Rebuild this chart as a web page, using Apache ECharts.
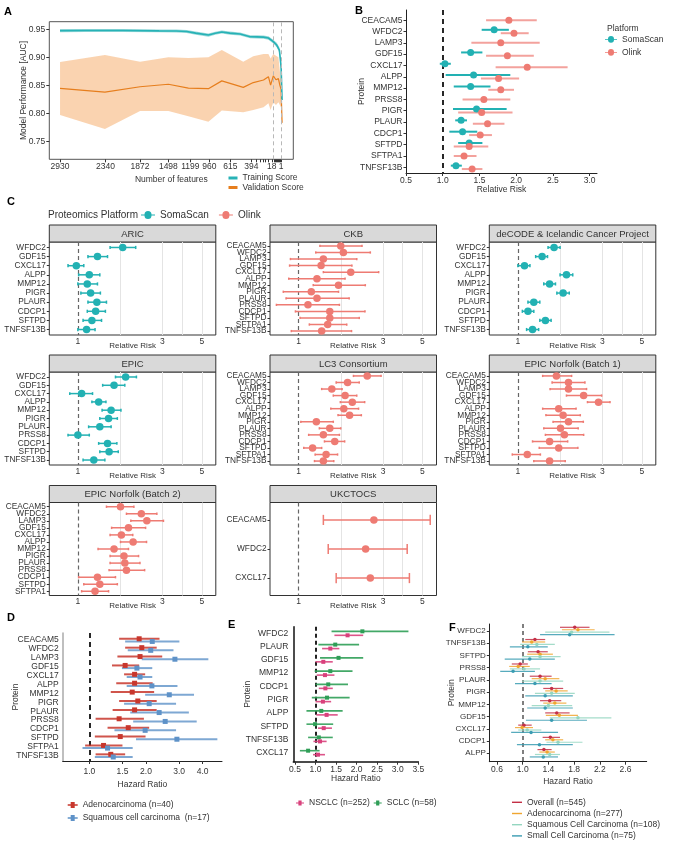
<!DOCTYPE html>
<html>
<head>
<meta charset="utf-8">
<title>Protein biomarkers and lung cancer risk</title>
<script src="https://cdn.jsdelivr.net/npm/echarts@6.0.0/dist/echarts.min.js"></script>
<style>
  html, body { margin: 0; padding: 0; background: #fff; }
  #fig { width: 677px; height: 849px; }
</style>
</head>
<body>
<div id="fig"></div>
<script>
// ---------- A: model performance vs number of features ----------
var aTickPos = [4.4, 23, 37.2, 48.8, 57.8, 65.6, 74.2, 82.8, 91.2, 95.0];
var aTickLab = ['2930', '2340', '1872', '1498', '1199', '960', '615', '394', '18', '1'];
var aMinorTicks = [84.8, 86.3, 87.6, 88.7, 89.7, 92.0, 92.5, 93.0, 93.4, 93.8, 94.2, 94.6];
var aCutoffs = [91.8, 95.2];
var aAucTicks = [0.75, 0.80, 0.85, 0.90, 0.95];

var trainX   = [4.4, 15, 30, 45, 52, 56.3, 60, 65.2, 68, 70.7, 74, 78.2, 82.3, 85, 87.8, 89.8, 91.8, 93.2, 94.3, 95.0, 95.4];
var trainAUC = [0.9476, 0.948, 0.948, 0.9472, 0.947, 0.9462, 0.9432, 0.9398, 0.943, 0.9452, 0.9432, 0.9416, 0.9368, 0.9365, 0.936, 0.9345, 0.928, 0.922, 0.913, 0.883, 0.824];
var trainHi  = [0.9503, 0.9506, 0.9506, 0.9498, 0.9496, 0.9489, 0.946, 0.9427, 0.9457, 0.9478, 0.9459, 0.9444, 0.9396, 0.9393, 0.939, 0.9376, 0.9315, 0.926, 0.918, 0.889, 0.829];
var trainLo  = [0.9449, 0.9454, 0.9454, 0.9446, 0.9444, 0.9435, 0.9404, 0.9369, 0.9403, 0.9426, 0.9405, 0.9388, 0.934, 0.9337, 0.933, 0.9314, 0.9245, 0.918, 0.908, 0.877, 0.819];

var validX   = [4.4, 22.8, 37.2, 48.8, 57.0, 65.2, 70.7, 79.5, 83.6, 87.8, 89.8, 90.7, 91.8, 92.9, 93.9, 94.5, 95.0, 95.4];
var validAUC = [0.8446, 0.838, 0.8475, 0.852, 0.845, 0.844, 0.858, 0.8464, 0.855, 0.8595, 0.8654, 0.8505, 0.867, 0.860, 0.862, 0.850, 0.843, 0.783];
var validHi  = [0.8916, 0.904, 0.892, 0.900, 0.899, 0.900, 0.913, 0.892, 0.902, 0.906, 0.906, 0.898, 0.906, 0.903, 0.900, 0.875, 0.860, 0.790];
var validLo  = [0.797, 0.772, 0.804, 0.804, 0.795, 0.785, 0.805, 0.802, 0.806, 0.811, 0.818, 0.806, 0.820, 0.815, 0.820, 0.815, 0.810, 0.777];

// ---------- B: pooled relative risk by platform ----------
var bProteins = ['CEACAM5', 'WFDC2', 'LAMP3', 'GDF15', 'CXCL17', 'ALPP', 'MMP12', 'PRSS8', 'PIGR', 'PLAUR', 'CDCP1', 'SFTPD', 'SFTPA1', 'TNFSF13B'];
var bTicks = [0.5, 1.0, 1.5, 2.0, 2.5, 3.0];
var bSomaRR  = [null, 1.70, null, 1.38, 1.03, 1.42, 1.38, null, 1.46, 1.25, 1.27, 1.36, null, 1.18];
var bSomaLo  = [null, 1.53, null, 1.25, 0.96, 1.04, 1.15, null, 1.14, 1.17, 1.09, 1.21, null, 1.11];
var bSomaHi  = [null, 1.90, null, 1.54, 1.11, 1.92, 1.65, null, 1.87, 1.33, 1.47, 1.54, null, 1.26];
var bOlinkRR = [1.90, 1.97, 1.79, 1.88, 2.15, 1.76, 1.79, 1.56, 1.53, 1.61, 1.51, 1.36, 1.29, 1.40];
var bOlinkLo = [1.59, 1.79, 1.39, 1.59, 1.72, 1.52, 1.62, 1.27, 1.21, 1.41, 1.36, 1.15, 1.15, 1.26];
var bOlinkHi = [2.28, 2.17, 2.32, 2.24, 2.70, 2.04, 1.97, 1.92, 1.95, 1.84, 1.67, 1.62, 1.46, 1.54];

// ---------- C: per-cohort relative risk ----------
var cTicks = [1, 3, 5];
var cGridVals = [1.73, 3, 3.87, 5];

var aricProteins = ['WFDC2', 'GDF15', 'CXCL17', 'ALPP', 'MMP12', 'PIGR', 'PLAUR', 'CDCP1', 'SFTPD', 'TNFSF13B'];
var aricRR = [1.79, 1.29, 0.98, 1.16, 1.13, 1.18, 1.28, 1.26, 1.20, 1.12];
var aricLo = [1.52, 1.14, 0.88, 1.01, 1.00, 1.04, 1.14, 1.13, 1.07, 1.00];
var aricHi = [2.12, 1.47, 1.08, 1.33, 1.29, 1.34, 1.45, 1.43, 1.36, 1.25];

var ckbProteins = ['CEACAM5', 'WFDC2', 'LAMP3', 'GDF15', 'CXCL17', 'ALPP', 'MMP12', 'PIGR', 'PLAUR', 'PRSS8', 'CDCP1', 'SFTPD', 'SFTPA1', 'TNFSF13B'];
var ckbRR = [1.73, 1.79, 1.38, 1.34, 1.97, 1.27, 1.68, 1.18, 1.27, 1.13, 1.50, 1.50, 1.46, 1.35];
var ckbLo = [1.32, 1.25, 0.90, 0.89, 1.38, 0.88, 1.21, 0.82, 0.85, 0.75, 0.96, 1.02, 1.15, 0.91];
var ckbHi = [2.28, 2.54, 2.13, 2.00, 2.83, 1.83, 2.38, 1.68, 1.93, 1.70, 2.37, 2.20, 1.87, 1.99];

var decodeProteins = ['WFDC2', 'GDF15', 'CXCL17', 'ALPP', 'MMP12', 'PIGR', 'PLAUR', 'CDCP1', 'SFTPD', 'TNFSF13B'];
var decodeRR = [1.60, 1.37, 1.09, 1.88, 1.51, 1.80, 1.23, 1.14, 1.43, 1.21];
var decodeLo = [1.48, 1.26, 1.00, 1.73, 1.40, 1.66, 1.14, 1.06, 1.33, 1.12];
var decodeHi = [1.73, 1.47, 1.17, 2.04, 1.63, 1.95, 1.33, 1.23, 1.54, 1.31];

var epicProteins = ['WFDC2', 'GDF15', 'CXCL17', 'ALPP', 'MMP12', 'PIGR', 'PLAUR', 'PRSS8', 'CDCP1', 'SFTPD', 'TNFSF13B'];
var epicRR = [1.86, 1.60, 1.05, 1.31, 1.54, 1.49, 1.33, 1.00, 1.47, 1.50, 1.23];
var epicLo = [1.63, 1.38, 0.90, 1.20, 1.37, 1.33, 1.15, 0.88, 1.31, 1.33, 1.07];
var epicHi = [2.14, 1.84, 1.21, 1.44, 1.75, 1.67, 1.54, 1.16, 1.66, 1.69, 1.42];

var lc3Proteins = ['CEACAM5', 'WFDC2', 'LAMP3', 'GDF15', 'CXCL17', 'ALPP', 'MMP12', 'PIGR', 'PLAUR', 'PRSS8', 'CDCP1', 'SFTPD', 'SFTPA1', 'TNFSF13B'];
var lc3RR = [2.44, 1.89, 1.54, 1.83, 2.01, 1.80, 1.94, 1.26, 1.50, 1.38, 1.60, 1.20, 1.43, 1.38];
var lc3Lo = [2.04, 1.63, 1.35, 1.57, 1.72, 1.52, 1.67, 1.03, 1.31, 1.14, 1.40, 1.07, 1.24, 1.23];
var lc3Hi = [2.92, 2.20, 1.76, 2.13, 2.36, 2.18, 2.26, 1.57, 1.73, 1.70, 1.82, 1.35, 1.66, 1.58];

var norfolk1Proteins = ['CEACAM5', 'WFDC2', 'LAMP3', 'GDF15', 'CXCL17', 'ALPP', 'MMP12', 'PIGR', 'PLAUR', 'PRSS8', 'CDCP1', 'SFTPD', 'SFTPA1', 'TNFSF13B'];
var norfolk1RR = [1.65, 1.93, 1.93, 2.35, 2.85, 1.70, 1.80, 1.93, 1.74, 1.83, 1.51, 1.70, 1.13, 1.51];
var norfolk1Lo = [1.38, 1.56, 1.52, 1.88, 2.47, 1.38, 1.44, 1.58, 1.40, 1.43, 1.21, 1.32, 0.93, 1.23];
var norfolk1Hi = [2.01, 2.39, 2.44, 2.97, 3.31, 2.13, 2.25, 2.34, 2.19, 2.35, 1.91, 2.18, 1.34, 1.85];

var norfolk2Proteins = ['CEACAM5', 'WFDC2', 'LAMP3', 'GDF15', 'CXCL17', 'ALPP', 'MMP12', 'PIGR', 'PLAUR', 'PRSS8', 'CDCP1', 'SFTPD', 'SFTPA1'];
var norfolk2RR = [1.74, 2.28, 2.45, 1.93, 1.76, 2.05, 1.60, 1.82, 1.84, 1.88, 1.29, 1.33, 1.25];
var norfolk2Lo = [1.45, 1.88, 1.99, 1.55, 1.52, 1.74, 1.30, 1.52, 1.52, 1.50, 1.01, 1.08, 1.05];
var norfolk2Hi = [2.07, 2.79, 3.04, 2.41, 2.04, 2.44, 1.93, 2.20, 2.24, 2.38, 1.63, 1.67, 1.49];

var ukctocsProteins = ['CEACAM5', 'WFDC2', 'CXCL17'];
var ukctocsRR = [2.66, 2.39, 2.54];
var ukctocsLo = [1.38, 1.47, 1.63];
var ukctocsHi = [5.53, 4.10, 4.22];

// ---------- D: hazard ratio by histology ----------
var dProteins = ['CEACAM5', 'WFDC2', 'LAMP3', 'GDF15', 'CXCL17', 'ALPP', 'MMP12', 'PIGR', 'PLAUR', 'PRSS8', 'CDCP1', 'SFTPD', 'SFTPA1', 'TNFSF13B'];
var dTicks = [1.0, 1.5, 2.0, 3.0, 4.0];
var dAdenoHR = [1.84, 1.90, 1.86, 1.55, 1.74, 1.74, 1.69, 1.81, 1.74, 1.44, 1.61, 1.46, 1.19, 1.30];
var dAdenoLo = [1.44, 1.55, 1.41, 1.32, 1.53, 1.39, 1.30, 1.44, 1.33, 1.08, 1.25, 1.07, 0.95, 1.08];
var dAdenoHi = [2.36, 2.28, 2.44, 1.84, 1.98, 2.17, 2.21, 2.28, 2.28, 1.95, 2.08, 1.99, 1.50, 1.55];
var dSquamHR = [2.16, 2.12, 2.85, 1.79, 1.86, 2.15, 2.66, 2.08, 2.35, 2.53, 1.98, 2.92, 1.25, 1.34];
var dSquamLo = [1.55, 1.60, 1.90, 1.49, 1.58, 1.58, 1.98, 1.53, 1.65, 1.71, 1.36, 1.77, 0.92, 1.07];
var dSquamHi = [3.01, 2.80, 4.29, 2.16, 2.16, 2.94, 3.60, 2.89, 3.38, 3.72, 2.89, 4.79, 1.70, 1.70];

// ---------- E: NSCLC vs SCLC ----------
var eProteins = ['WFDC2', 'PLAUR', 'GDF15', 'MMP12', 'CDCP1', 'PIGR', 'ALPP', 'SFTPD', 'TNFSF13B', 'CXCL17'];
var eTicks = [0.5, 1.0, 1.5, 2.0, 2.5, 3.0, 3.5];
var eNsclcHR = [1.78, 1.36, 1.19, 1.23, 1.24, 1.18, 1.27, 1.20, 1.11, 1.06];
var eNsclcLo = [1.46, 1.16, 1.00, 1.03, 1.08, 1.00, 1.02, 1.06, 0.95, 0.94];
var eNsclcHi = [2.16, 1.58, 1.42, 1.46, 1.42, 1.38, 1.54, 1.40, 1.27, 1.23];
var eSclcHR  = [2.14, 1.48, 1.56, 1.36, 1.31, 1.28, 1.14, 0.99, 1.08, 0.82];
var eSclcLo  = [1.39, 1.07, 1.11, 0.98, 1.00, 0.91, 0.78, 0.78, 0.82, 0.62];
var eSclcHi  = [3.26, 2.06, 2.16, 1.90, 1.79, 1.83, 1.66, 1.43, 1.42, 1.10];

// ---------- F: four subgroups ----------
var fProteins = ['WFDC2', 'TNFSF13B', 'SFTPD', 'PRSS8', 'PLAUR', 'PIGR', 'MMP12', 'GDF15', 'CXCL17', 'CDCP1', 'ALPP'];
var fTicks = [0.6, 1.0, 1.4, 1.8, 2.2, 2.6];
var fOverallHR = [1.81, 1.19, 1.24, 0.96, 1.27, 1.45, 1.42, 1.53, 1.02, 1.43, 1.33];
var fOverallLo = [1.58, 1.04, 1.08, 0.83, 1.11, 1.32, 1.27, 1.35, 0.93, 1.31, 1.23];
var fOverallHi = [2.04, 1.35, 1.39, 1.08, 1.45, 1.63, 1.60, 1.73, 1.14, 1.58, 1.45];
var fAdenoHR = [1.86, 1.14, 1.27, 0.93, 1.35, 1.52, 1.50, 1.57, 0.99, 1.47, 1.38];
var fAdenoLo = [1.61, 0.99, 1.07, 0.79, 1.14, 1.35, 1.32, 1.36, 0.88, 1.35, 1.26];
var fAdenoHi = [2.12, 1.35, 1.47, 1.11, 1.57, 1.70, 1.68, 1.86, 1.16, 1.63, 1.50];
var fSquamHR = [1.76, 1.22, 1.27, 1.02, 1.27, 1.45, 1.40, 1.86, 1.07, 1.55, 1.42];
var fSquamLo = [1.35, 0.96, 0.99, 0.80, 0.99, 1.19, 1.14, 1.42, 0.93, 1.37, 1.19];
var fSquamHi = [2.35, 1.50, 1.59, 1.27, 1.63, 1.81, 1.77, 2.38, 1.29, 1.93, 1.58];
var fSmallHR = [1.73, 1.08, 1.11, 0.85, 1.19, 1.35, 1.35, 1.45, 1.13, 1.26, 1.32];
var fSmallLo = [1.27, 0.80, 0.72, 0.65, 0.88, 1.04, 1.07, 1.05, 0.82, 0.91, 1.11];
var fSmallHi = [2.43, 1.39, 1.50, 1.19, 1.45, 1.78, 1.78, 2.00, 1.55, 1.78, 1.55];

// ---------- styling ----------
var FONT = '"Liberation Sans", Arial, Helvetica, sans-serif';
var INK = '#333';
var SOMA = '#22b1b3', OLINK = '#ee7b73';
var platformColor = {SomaScan: SOMA, Olink: OLINK};
var PR_ICON = 'path://M0,2.6H3A3,3,0,0,1,9,2.6H12V3.4H9A3,3,0,0,1,3,3.4H0Z';
var SQ_ICON = 'path://M0,2.3H3V0H7V2.3H10V3.7H7V6H3V3.7H0Z';
var LINE_ICON = 'path://M0,0H10V1.4H0Z';

var chart = echarts.init(document.getElementById('fig'));
var grids = [], xAxes = [], yAxes = [], series = [], legends = [], graphics = [];
var xOf = {}, yOf = {};   // grid index -> axis index used by the series

function idx(n) { var a = []; for (var i = 0; i < n; i++) a.push(i); return a; }
function nearest(arr, v) {
    var k = 0;
    for (var i = 1; i < arr.length; i++) if (Math.abs(arr[i] - v) < Math.abs(arr[k] - v)) k = i;
    return k;
}
function nameStyle(size) { return {fontSize: size || 8.5, color: INK, fontFamily: FONT}; }

function addGrid(left, top, width, height, border) {
    grids.push({
        left: left, top: top, width: width, height: height,
        containLabel: false, outerBoundsMode: 'none',
        show: !!border, borderColor: '#333', borderWidth: border || 0,
        backgroundColor: 'rgba(0,0,0,0)'
    });
    return grids.length - 1;
}

// x axis for risk / hazard ratio (log axes are drawn on ln scale)
function riskAxis(gi, min, max, ticks, log, fmt, o) {
    var t = log ? function (v) { return Math.log(v); } : function (v) { return v; };
    xAxes.push({
        gridIndex: gi, type: 'value', min: t(min), max: t(max),
        axisLine: {show: !!o.line, onZero: false, lineStyle: {color: o.line || INK, width: o.lineWidth || 1}},
        axisTick: {show: o.tick !== false, customValues: (o.grid || ticks).map(t), length: 3, lineStyle: {color: INK}},
        splitLine: {show: !!o.grid, lineStyle: {color: '#e4e4e4', width: 1}},
        axisLabel: {
            customValues: ticks.map(t), showMinLabel: true, showMaxLabel: true,
            formatter: function (v) { return fmt(log ? Math.exp(v) : v); },
            fontSize: o.font, color: INK, margin: o.margin, fontFamily: FONT
        },
        name: o.name || '', nameLocation: 'middle', nameGap: o.nameGap || 0, nameMoveOverlap: false,
        nameTextStyle: nameStyle(o.nameSize)
    });
    xOf[gi] = xAxes.length - 1;
}

// y axis listing proteins top to bottom; with o.split the labels are shared
// between two overlaid axes (even / odd rows) so dense panels keep every name
function proteinAxis(gi, names, min, max, o) {
    var pos = idx(names.length);
    var labelPos = o.split ? pos.filter(function (i) { return i % 2 === 0; }) : pos;
    function labelCfg(values) {
        return {
            customValues: values, showMinLabel: true, showMaxLabel: true,
            formatter: function (v) { return names[Math.round(v)]; },
            fontSize: o.font, color: INK, margin: o.margin, fontFamily: FONT
        };
    }
    yAxes.push({
        gridIndex: gi, type: 'value', inverse: true, min: min, max: max, position: 'left',
        axisLine: {show: !!o.line, onZero: false, lineStyle: {color: o.line || INK, width: o.lineWidth || 1}},
        axisTick: {show: o.tick !== false, customValues: pos, length: 2.5, lineStyle: {color: INK}},
        splitLine: {show: false},
        axisLabel: labelCfg(labelPos),
        name: o.name || '', nameLocation: 'middle', nameRotate: 90, nameGap: o.nameGap || 0,
        nameMoveOverlap: false, nameTextStyle: nameStyle(o.nameSize)
    });
    yOf[gi] = yAxes.length - 1;
    if (o.split) {
        yAxes.push({
            gridIndex: gi, type: 'value', inverse: true, min: min, max: max, position: 'left', offset: 0,
            axisLine: {show: false, onZero: false}, axisTick: {show: false}, splitLine: {show: false},
            axisLabel: labelCfg(pos.filter(function (i) { return i % 2 === 1; }))
        });
    }
}

function makeBars(color, width, capUnits, opacity) {
    return function (params, api) {
        var y = api.value(2);
        var a = api.coord([api.value(0), y]);
        var b = api.coord([api.value(1), y]);
        var st = {stroke: color, lineWidth: width, opacity: opacity};
        var kids = [{type: 'line', shape: {x1: a[0], y1: a[1], x2: b[0], y2: b[1]}, style: st}];
        if (capUnits) {
            var h = api.size([0, capUnits])[1] / 2;
            kids.push({type: 'line', shape: {x1: a[0], y1: a[1] - h, x2: a[0], y2: a[1] + h}, style: st});
            kids.push({type: 'line', shape: {x1: b[0], y1: b[1] - h, x2: b[0], y2: b[1] + h}, style: st});
        }
        return {type: 'group', children: kids};
    };
}

// point estimate + interval for one group in one panel
function forest(gi, name, color, est, lo, hi, ys, look) {
    var t = look.log ? function (v) { return Math.log(v); } : function (v) { return v; };
    var bars = [], pts = [];
    est.forEach(function (v, i) {
        if (v == null) return;
        bars.push([t(lo[i]), t(hi[i]), ys[i]]);
        pts.push([t(v), ys[i]]);
    });
    var barSeries = {
        type: 'custom', name: name, xAxisIndex: xOf[gi], yAxisIndex: yOf[gi],
        renderItem: makeBars(look.barColor || color, look.width,
            look.cap || 0, look.barOpacity == null ? 1 : look.barOpacity),
        encode: {x: [0, 1], y: 2}, data: bars, itemStyle: {color: color}, z: 3, silent: true
    };
    if (look.ref) {
        barSeries.markLine = {
            silent: true, symbol: ['none', 'none'], label: {show: false}, z: 2, animation: false,
            lineStyle: {color: look.ref.color, width: look.ref.width, type: look.ref.type},
            data: [{xAxis: t(1)}]
        };
    }
    series.push(barSeries);
    series.push({
        type: 'scatter', name: name, xAxisIndex: xOf[gi], yAxisIndex: yOf[gi],
        symbol: look.symbol || 'circle', symbolSize: look.size,
        itemStyle: {color: color, opacity: 1}, data: pts, z: 4, silent: true
    });
}

function dodge(n, offset) {
    return idx(n).map(function (i) { return i + offset; });
}

function band(xs, lo, hi, fill, opacity) {
    return function (params, api) {
        if (params.dataIndex !== 0) return;
        var pts = [], i;
        for (i = 0; i < xs.length; i++) pts.push(api.coord([xs[i], hi[i]]));
        for (i = xs.length - 1; i >= 0; i--) pts.push(api.coord([xs[i], lo[i]]));
        return {type: 'polygon', shape: {points: pts}, style: {fill: fill, opacity: opacity}};
    };
}

function label(text, x, y, size, bold, align) {
    graphics.push({
        type: 'text', x: x, y: y, silent: true,
        style: {
            text: text, font: (bold ? 'bold ' : '') + size + 'px ' + FONT, fill: bold ? '#000' : INK,
            textAlign: align || 'left', textVerticalAlign: 'middle'
        }
    });
}

function legendText(size, lh) {
    var s = {fontSize: size, color: INK, fontFamily: FONT};
    if (lh) s.lineHeight = lh;
    return s;
}

// ================= A =================
var gA = addGrid(49.3, 21.7, 244, 137.6, 1);
grids[gA].borderColor = '#555';
xAxes.push({
    gridIndex: gA, type: 'value', min: 0, max: 100,
    axisLine: {show: false, onZero: false}, splitLine: {show: false},
    axisTick: {show: true, customValues: aTickPos.concat(aMinorTicks), length: 3, lineStyle: {color: INK}},
    axisLabel: {
        customValues: aTickPos, showMinLabel: true, showMaxLabel: true,
        formatter: function (v) { return aTickLab[nearest(aTickPos, v)]; },
        fontSize: 8.5, color: INK, margin: 3, fontFamily: FONT
    },
    name: 'Number of features', nameLocation: 'middle', nameGap: 16, nameMoveOverlap: false,
    nameTextStyle: nameStyle(8.5)
});
yAxes.push({
    gridIndex: gA, type: 'value', min: 0.718, max: 0.9636,
    axisLine: {show: false, onZero: false}, splitLine: {show: false},
    axisTick: {show: true, customValues: aAucTicks, length: 3, lineStyle: {color: INK}},
    axisLabel: {
        customValues: aAucTicks, formatter: function (v) { return v.toFixed(2); },
        fontSize: 8.5, color: INK, margin: 4, fontFamily: FONT
    },
    name: 'Model Performance [AUC]', nameLocation: 'middle', nameRotate: 90, nameGap: 21,
    nameMoveOverlap: false, nameTextStyle: nameStyle(8.5)
});
var axA = xAxes.length - 1, ayA = yAxes.length - 1;
series.push({
    type: 'custom', name: 'valBand', xAxisIndex: axA, yAxisIndex: ayA, silent: true, z: 1,
    renderItem: band(validX, validLo, validHi, '#f9c89c', 0.8),
    encode: {x: 0, y: [1, 2]},
    data: validX.map(function (x, i) { return [x, validLo[i], validHi[i]]; })
});
series.push({
    type: 'line', name: 'Validation Score', xAxisIndex: axA, yAxisIndex: ayA, silent: true, z: 3,
    showSymbol: false, symbol: 'none', color: '#e67e1d',
    lineStyle: {color: '#e67e1d', width: 1.2},
    data: validX.map(function (x, i) { return [x, validAUC[i]]; }),
    markLine: {
        silent: true, symbol: ['none', 'none'], label: {show: false}, animation: false,
        lineStyle: {color: '#b8b8b8', width: 1, type: [4, 3]},
        data: aCutoffs.map(function (x) { return {xAxis: x}; })
    }
});
series.push({
    type: 'custom', name: 'trainBand', xAxisIndex: axA, yAxisIndex: ayA, silent: true, z: 2,
    renderItem: band(trainX, trainLo, trainHi, '#8fd5d6', 0.9),
    encode: {x: 0, y: [1, 2]},
    data: trainX.map(function (x, i) { return [x, trainLo[i], trainHi[i]]; })
});
series.push({
    type: 'line', name: 'Training Score', xAxisIndex: axA, yAxisIndex: ayA, silent: true, z: 4,
    showSymbol: false, symbol: 'none', color: '#27b2b6',
    lineStyle: {color: '#27b2b6', width: 1.6},
    data: trainX.map(function (x, i) { return [x, trainAUC[i]]; })
});
legends.push({
    left: 228.5, top: 173.5, orient: 'vertical', padding: 0, itemWidth: 9, itemHeight: 3, itemGap: 0.5,
    icon: 'rect', selectedMode: false,
    data: ['Training Score', 'Validation Score'],
    textStyle: legendText(8.5, 9)
});

// ================= B =================
var bSomaY = [], bOlinkY = [];
bProteins.forEach(function (p, i) {
    var both = bSomaRR[i] != null && bOlinkRR[i] != null;
    bSomaY.push(both ? i - 0.15 : i);
    bOlinkY.push(both ? i + 0.15 : i);
});
var gB = addGrid(406, 10, 191, 163, 0);
riskAxis(gB, 0.5, 3.1, bTicks, false, function (v) { return v.toFixed(1); },
    {line: '#222', font: 8.5, margin: 3, name: 'Relative Risk', nameGap: 12});
proteinAxis(gB, bProteins, -0.9, 13.5,
    {line: '#222', font: 8.5, margin: 3.5, name: 'Protein', nameGap: 40});
forest(gB, 'SomaScan', SOMA, bSomaRR, bSomaLo, bSomaHi, bSomaY,
    {size: 7, width: 2, ref: {color: '#111', width: 1.8, type: [5, 4]}});
forest(gB, 'Olink', OLINK, bOlinkRR, bOlinkLo, bOlinkHi, bOlinkY,
    {size: 7, width: 2, barOpacity: 0.7});
label('Platform', 607, 29, 8.5);
legends.push({
    left: 605, top: 34.8, orient: 'vertical', padding: 0, itemWidth: 12, itemHeight: 6.8, itemGap: 4,
    selectedMode: false,
    data: [{name: 'SomaScan', icon: PR_ICON}, {name: 'Olink', icon: PR_ICON}],
    textStyle: legendText(8.5, 9)
});

// ================= C =================
var cLeft = [49.3, 270, 489.3], cWidth = 166.5;
var cStripTop = [225, 355, 485.5], cStripH = 17, cPanelH = 93;
var cFacets = [
    {title: 'ARIC', col: 0, row: 0, names: aricProteins, rr: aricRR, lo: aricLo, hi: aricHi, platform: 'SomaScan'},
    {title: 'CKB', col: 1, row: 0, names: ckbProteins, rr: ckbRR, lo: ckbLo, hi: ckbHi, platform: 'Olink'},
    {title: 'deCODE & Icelandic Cancer Project', col: 2, row: 0, names: decodeProteins, rr: decodeRR, lo: decodeLo, hi: decodeHi, platform: 'SomaScan'},
    {title: 'EPIC', col: 0, row: 1, names: epicProteins, rr: epicRR, lo: epicLo, hi: epicHi, platform: 'SomaScan'},
    {title: 'LC3 Consortium', col: 1, row: 1, names: lc3Proteins, rr: lc3RR, lo: lc3Lo, hi: lc3Hi, platform: 'Olink'},
    {title: 'EPIC Norfolk (Batch 1)', col: 2, row: 1, names: norfolk1Proteins, rr: norfolk1RR, lo: norfolk1Lo, hi: norfolk1Hi, platform: 'Olink'},
    {title: 'EPIC Norfolk (Batch 2)', col: 0, row: 2, names: norfolk2Proteins, rr: norfolk2RR, lo: norfolk2Lo, hi: norfolk2Hi, platform: 'Olink'},
    {title: 'UKCTOCS', col: 1, row: 2, names: ukctocsProteins, rr: ukctocsRR, lo: ukctocsLo, hi: ukctocsHi, platform: 'Olink'}
];
cFacets.forEach(function (f) {
    var left = cLeft[f.col], top = cStripTop[f.row];
    var gi = addGrid(left, top + cStripH, cWidth, cPanelH, 1);
    riskAxis(gi, 0.69, 6.0, cTicks, true, function (v) { return String(Math.round(v)); },
        {tick: false, grid: cGridVals, font: 8.5, margin: 2, name: 'Relative Risk', nameGap: 6.5, nameSize: 8});
    proteinAxis(gi, f.names, -0.6, f.names.length - 0.4, {font: 8.3, margin: 3.5, split: true});
    forest(gi, f.platform, platformColor[f.platform], f.rr, f.lo, f.hi, idx(f.names.length),
        {log: true, size: 7.5, width: 1.5, cap: 0.35, ref: {color: '#666', width: 1.2, type: [4, 3]}});
    graphics.push({
        type: 'rect', silent: true,
        shape: {x: left, y: top, width: cWidth, height: cStripH},
        style: {fill: '#d9d9d9', stroke: '#333', lineWidth: 1}
    });
    label(f.title, left + cWidth / 2, top + cStripH / 2 + 0.5, 9.5, false, 'center');
});
label('Proteomics Platform', 48, 215, 10);
legends.push({
    left: 141, top: 209, orient: 'horizontal', padding: 0, itemWidth: 14, itemHeight: 8, itemGap: 10,
    selectedMode: false,
    data: [{name: 'SomaScan', icon: PR_ICON}, {name: 'Olink', icon: PR_ICON}],
    textStyle: legendText(10, 12)
});

// ================= D =================
var gD = addGrid(62.7, 633, 159.3, 128, 0);
riskAxis(gD, 0.722, 5.07, dTicks, true, function (v) { return v.toFixed(1); },
    {line: '#222', font: 8.5, margin: 6, name: 'Hazard Ratio', nameGap: 19.5});
proteinAxis(gD, dProteins, -0.8, 13.6,
    {line: '#aaa', lineWidth: 1.5, tick: false, font: 8.5, margin: 4, name: 'Protein', nameGap: 43});
forest(gD, 'Adenocarcinoma (n=40)', '#c8372d', dAdenoHR, dAdenoLo, dAdenoHi, dodge(dProteins.length, -0.15),
    {log: true, symbol: 'rect', size: 5, width: 2, barOpacity: 0.85, ref: {color: '#111', width: 1.8, type: [5, 4]}});
forest(gD, 'Squamous cell carcinoma  (n=17)', '#5e92c8', dSquamHR, dSquamLo, dSquamHi, dodge(dProteins.length, 0.15),
    {log: true, symbol: 'rect', size: 5, width: 2, barOpacity: 0.8});
legends.push({
    left: 67.7, top: 800.5, orient: 'vertical', padding: 0, itemWidth: 10, itemHeight: 6, itemGap: 4,
    selectedMode: false,
    data: [{name: 'Adenocarcinoma (n=40)', icon: SQ_ICON}, {name: 'Squamous cell carcinoma  (n=17)', icon: SQ_ICON}],
    textStyle: legendText(8.5, 9)
});

// ================= E =================
var gE = addGrid(293.3, 626.7, 125, 135, 0);
riskAxis(gE, 0.46, 3.5, eTicks, false, function (v) { return v.toFixed(1); },
    {line: '#111', lineWidth: 1.5, font: 8.5, margin: 3, name: 'Hazard Ratio', nameGap: 12});
proteinAxis(gE, eProteins, -0.5, 9.68,
    {line: '#111', lineWidth: 1.5, tick: false, font: 8.5, margin: 5, name: 'Protein', nameGap: 41});
forest(gE, 'SCLC (n=58)', '#2f9e57', eSclcHR, eSclcLo, eSclcHi, dodge(eProteins.length, -0.15),
    {symbol: 'rect', size: 4, width: 1.6, barOpacity: 0.9, ref: {color: '#222', width: 2, type: [4, 3]}});
forest(gE, 'NSCLC (n=252)', '#d9417c', eNsclcHR, eNsclcLo, eNsclcHi, dodge(eProteins.length, 0.15),
    {symbol: 'rect', size: 4, width: 1.6, barOpacity: 0.9});
legends.push({
    left: 296, top: 798.5, orient: 'horizontal', padding: 0, itemWidth: 8, itemHeight: 5, itemGap: 4,
    selectedMode: false,
    data: [{name: 'NSCLC (n=252)', icon: SQ_ICON}, {name: 'SCLC (n=58)', icon: SQ_ICON}],
    textStyle: legendText(8.5, 9)
});

// ================= F =================
var gF = addGrid(489.3, 624, 157.4, 137.7, 0);
riskAxis(gF, 0.48, 2.93, fTicks, false, function (v) { return v.toFixed(1); },
    {line: '#222', font: 8.5, margin: 3, name: 'Hazard Ratio', nameGap: 15});
proteinAxis(gF, fProteins, -0.57, 10.69,
    {line: '#222', font: 8, margin: 3.5, name: 'Protein', nameGap: 33});
forest(gF, 'Overall (n=545)', '#c42f45', fOverallHR, fOverallLo, fOverallHi, dodge(fProteins.length, -0.3),
    {size: 3.5, width: 1.2, barOpacity: 0.85, ref: {color: '#555', width: 1.5, type: [4, 3]}});
forest(gF, 'Adenocarcinoma (n=277)', '#f0a630', fAdenoHR, fAdenoLo, fAdenoHi, dodge(fProteins.length, -0.1),
    {size: 3.5, width: 1.2, barOpacity: 0.85});
forest(gF, 'Squamous Cell Carcinoma (n=108)', '#94d6c0', fSquamHR, fSquamLo, fSquamHi, dodge(fProteins.length, 0.1),
    {size: 3.5, width: 1.2, barOpacity: 0.85});
forest(gF, 'Small Cell Carcinoma (n=75)', '#3a9cb2', fSmallHR, fSmallLo, fSmallHi, dodge(fProteins.length, 0.3),
    {size: 3.5, width: 1.2, barOpacity: 0.85});
legends.push({
    left: 512, top: 797.8, orient: 'vertical', padding: 0, itemWidth: 10, itemHeight: 1.6, itemGap: 2.2,
    selectedMode: false,
    data: ['Overall (n=545)', 'Adenocarcinoma (n=277)', 'Squamous Cell Carcinoma (n=108)', 'Small Cell Carcinoma (n=75)']
        .map(function (n) { return {name: n, icon: LINE_ICON}; }),
    textStyle: legendText(8.5, 9)
});

// panel letters
label('A', 4, 12, 11, true);
label('B', 355, 11, 11, true);
label('C', 7, 202, 11, true);
label('D', 7, 618, 11, true);
label('E', 228, 625, 11, true);
label('F', 449, 628, 11, true);

chart.setOption({
    animation: false,
    backgroundColor: '#fff',
    textStyle: {fontFamily: FONT, color: INK},
    grid: grids,
    xAxis: xAxes,
    yAxis: yAxes,
    legend: legends,
    series: series,
    graphic: {elements: graphics}
});
</script>
</body>
</html>
